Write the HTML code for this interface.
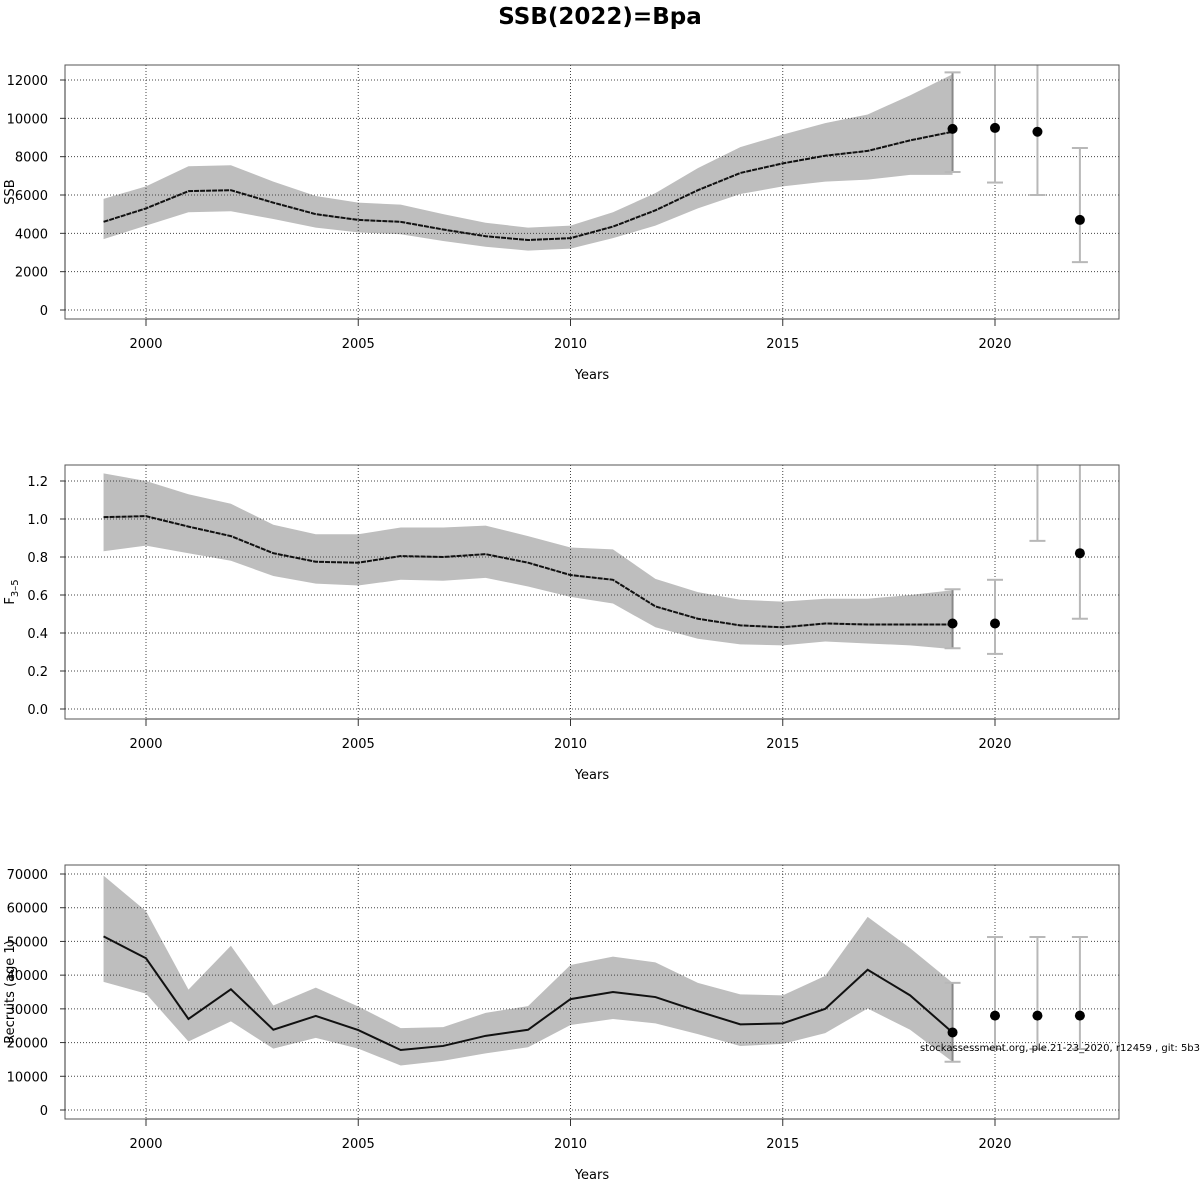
<!DOCTYPE html>
<html><head><meta charset="utf-8"><style>
html,body{margin:0;padding:0;background:#fff;}
svg{display:block;font-family:"DejaVu Sans","Liberation Sans",sans-serif;}
</style></head><body>
<svg id="chart" width="1200" height="1200" viewBox="0 0 1200 1200">
<text x="600" y="24" text-anchor="middle" font-size="23" font-weight="bold">SSB(2022)=Bpa</text>
</svg>
<script>
const years = [1999,2000,2001,2002,2003,2004,2005,2006,2007,2008,2009,2010,2011,2012,2013,2014,2015,2016,2017,2018,2019];
const xTicks = [2000,2005,2010,2015,2020];
const fcYears = [2019,2020,2021,2022];

const ssbEst = [4600,5300,6200,6250,5600,5000,4700,4600,4200,3850,3650,3750,4350,5200,6250,7150,7650,8050,8300,8850,9300];
const ssbHi  = [5800,6450,7500,7550,6700,5950,5600,5500,5000,4550,4300,4400,5100,6100,7400,8500,9150,9750,10200,11200,12300];
const ssbLo  = [3700,4400,5100,5150,4750,4300,4050,3950,3600,3300,3100,3200,3750,4400,5300,6050,6450,6700,6800,7050,7050];
const ssbFc   = [9450,9500,9300,4700];
const ssbFcLo = [7200,6650,6000,2500];
const ssbFcHi = [12400,14000,14000,8450];
const ssbTicks = [0,2000,4000,6000,8000,10000,12000];

const fEst = [1.01,1.015,0.96,0.91,0.82,0.775,0.77,0.805,0.80,0.815,0.77,0.705,0.68,0.54,0.475,0.44,0.43,0.45,0.445,0.445,0.445];
const fHi  = [1.24,1.20,1.13,1.08,0.97,0.92,0.92,0.955,0.955,0.965,0.91,0.85,0.84,0.685,0.615,0.575,0.565,0.58,0.58,0.60,0.625];
const fLo  = [0.83,0.86,0.82,0.78,0.70,0.66,0.65,0.68,0.675,0.69,0.645,0.59,0.555,0.43,0.37,0.34,0.335,0.355,0.345,0.335,0.315];
const fFc   = [0.45,0.45,1.5,0.82];
const fFcLo = [0.32,0.29,0.885,0.475];
const fFcHi = [0.63,0.68,1.6,1.6];
const fTicks = [0.0,0.2,0.4,0.6,0.8,1.0,1.2];

const recEst = [51500,45000,27000,35800,23800,27900,23700,17800,19000,22000,23800,32900,35000,33500,29300,25400,25700,30000,41600,34000,23000];
const recHi  = [69500,59000,35700,48700,31000,36300,30700,24300,24600,28800,30800,43000,45500,43800,37700,34300,34000,39800,57300,48000,37700];
const recLo  = [38000,34500,20300,26300,18200,21400,18200,13200,14600,16800,18600,25200,27000,25700,22500,19000,19600,22800,30100,23800,14300];
const recFc   = [23000,28000,28000,28000];
const recFcLo = [14300,18100,18100,18100];
const recFcHi = [37700,51300,51300,51300];
const recTicks = [0,10000,20000,30000,40000,50000,60000,70000];

const NS="http://www.w3.org/2000/svg";
const svg=document.getElementById('chart');
function mk(tag,attrs,parent){const e=document.createElementNS(NS,tag);for(const k in attrs)e.setAttribute(k,attrs[k]);(parent||svg).appendChild(e);return e;}
const X0=65,X1=1119;
function xs(yr){return 146+(yr-2000)*42.45;}

function panel(idx,top,yMin,yMax,yPix0,yPix1,ticks,fmt,est,hi,lo,fc,fcLo,fcHi,ylabel,solid){
  const bottom=top+254;
  function ys(v){return yPix0+(v-yMin)/(yMax-yMin)*(yPix1-yPix0);}
  const g=mk('g',{});
  
  
  const cid='clip'+idx;
  const cp=mk('clipPath',{id:cid},g);mk('rect',{x:X0,y:top,width:X1-X0,height:bottom-top},cp);
  // band
  let pts=years.map((y,i)=>xs(y)+','+ys(hi[i]));
  pts=pts.concat(years.slice().reverse().map((y,j)=>{const i=years.length-1-j;return xs(y)+','+ys(lo[i]);}));
  const band=mk('polygon',{points:pts.join(' '),fill:'#bebebe',stroke:'none','clip-path':'url(#'+cid+')'},g);
  
  
  // grid
  ticks.forEach(t=>{mk('line',{x1:X0,x2:X1,y1:ys(t),y2:ys(t),stroke:'#444','stroke-width':1,'stroke-dasharray':'1,2'},g);});
  xTicks.forEach(t=>{mk('line',{x1:xs(t),x2:xs(t),y1:top,y2:bottom,stroke:'#444','stroke-width':1,'stroke-dasharray':'1,2'},g);});
  // line
  const ln=mk('polyline',{points:years.map((y,i)=>xs(y)+','+ys(est[i])).join(' '),fill:'none',stroke:'#111','stroke-width':2,'stroke-dasharray':solid?'none':'5,1'},g);
  
  
  // forecast
  fcYears.forEach((y,i)=>{
    const eg=mk('g',{'clip-path':'url(#'+cid+')'},g);
    
    
    const c= i===0?'#888':'#b8b8b8';
    mk('line',{x1:xs(y),x2:xs(y),y1:ys(fcLo[i]),y2:ys(fcHi[i]),stroke:c,'stroke-width':2},eg);
    mk('line',{x1:xs(y)-8,x2:xs(y)+8,y1:ys(fcLo[i]),y2:ys(fcLo[i]),stroke:'#b8b8b8','stroke-width':2},eg);
    mk('line',{x1:xs(y)-8,x2:xs(y)+8,y1:ys(fcHi[i]),y2:ys(fcHi[i]),stroke:'#b8b8b8','stroke-width':2},eg);
    mk('circle',{cx:xs(y),cy:ys(fc[i]),r:5,fill:'#000'},eg);
  });
  // box
  mk('rect',{x:X0,y:top,width:X1-X0,height:bottom-top,fill:'none',stroke:'#555','stroke-width':1},g);
  // y axis
  mk('line',{x1:X0,x2:X0,y1:ys(ticks[0]),y2:ys(ticks[ticks.length-1]),stroke:'#333','stroke-width':1},g);
  ticks.forEach(t=>{
    mk('line',{x1:X0-5,x2:X0,y1:ys(t),y2:ys(t),stroke:'#333'},g);
    const tx=mk('text',{x:48,y:ys(t)+5,'text-anchor':'end','font-size':13},g);tx.textContent=fmt(t);
    
    
  });
  // x axis
  mk('line',{x1:xs(2000),x2:xs(2020),y1:bottom,y2:bottom,stroke:'#333','stroke-width':1},g);
  xTicks.forEach(t=>{
    mk('line',{x1:xs(t),x2:xs(t),y1:bottom,y2:bottom+7,stroke:'#333'},g);
    const tx=mk('text',{x:xs(t),y:bottom+29,'text-anchor':'middle','font-size':13},g);tx.textContent=t;
    
    
  });
  const xl=mk('text',{x:592,y:bottom+60,'text-anchor':'middle','font-size':13},g);xl.textContent='Years';
  
  
  const yl=mk('text',{x:0,y:0,'text-anchor':'middle','font-size':13,transform:'translate(14,'+((top+bottom)/2)+') rotate(-90)'},g);
  
  
  if(ylabel==='F'){
    yl.innerHTML='F<tspan font-size="10" dy="4">3–5</tspan>';
  } else yl.textContent=ylabel;
}
panel(1,65,0,12000,310,80,ssbTicks,t=>String(t),ssbEst,ssbHi,ssbLo,ssbFc,ssbFcLo,ssbFcHi,'SSB',false);
panel(2,465,0,1.2,709,481,fTicks,t=>t.toFixed(1),fEst,fHi,fLo,fFc,fFcLo,fFcHi,'F',false);
panel(3,865,0,70000,1110,874,recTicks,t=>String(t),recEst,recHi,recLo,recFc,recFcLo,recFcHi,'Recruits (age 1)',true);
const foot=mk('text',{x:920,y:1051,'font-size':10});
foot.textContent='stockassessment.org, ple.21-23_2020, r12459 , git: 5b334';


</script>
</body></html>
